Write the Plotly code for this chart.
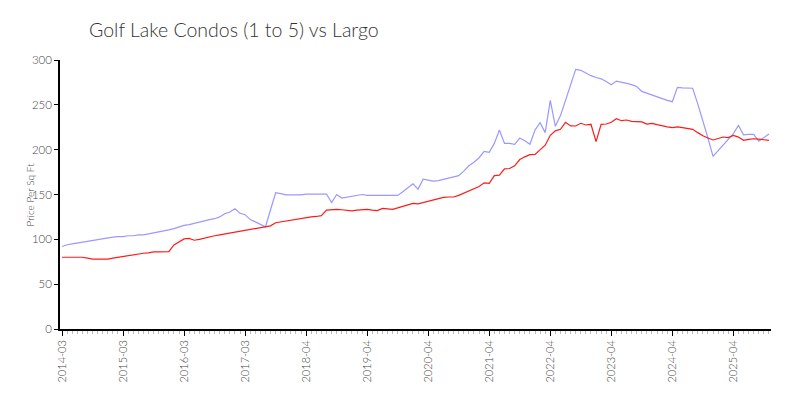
import plotly.graph_objects as go

# Month categories (one month missing between 2017-03 and 2018-04 in the source)
months = []
for y in range(2014, 2026):
    for m in range(1, 13):
        months.append(f"{y}-{m:02d}")
months = [mm for mm in months if "2014-03" <= mm <= "2025-11" and mm != "2017-09"]

golf_lake = [
    92, 94, 95, 96, 97, 98, 99, 100, 101, 102,
    102.5, 103, 103, 104, 104, 105, 105, 106, 107, 108,
    109, 110.5, 112, 114, 115.5, 116.5, 118, 119, 121, 122,
    123, 125, 128.5, 130.5, 134, 129, 127.5, 122, 119.5, 117,
    114, 133, 152, 151, 149.5, 149.5, 149.5, 149.5, 150.5, 150.5,
    150.5, 150.5, 150.5, 141, 150, 146, 147, 148, 149, 150,
    149, 149, 149, 149, 149, 149, 149, 153, 158, 162,
    156, 167, 166, 165, 165.5, 167, 168, 169.5, 171, 176,
    182, 186, 191, 198, 197, 207, 222, 207, 207, 206,
    213, 210, 206, 222, 230, 219, 255, 226, 238, 255,
    272, 289.5, 288.5, 285.5, 282.5, 280.5, 279, 276, 272.5, 276.5,
    275.5, 274, 272.5, 270.5, 265, 263, 261, 258.5, 256.5, 255,
    253.5, 269.5, 269, 268.5, 268.5, 251, 233, 213, 192.5, 199,
    205, 211, 218, 227, 216.5, 217, 217, 209.5, 213.5, 217.5,
]

largo = [
    80, 80, 80, 80, 80, 79, 78, 78, 78, 78,
    79, 80, 81, 81.5, 82.5, 83.5, 84.5, 85, 86, 86,
    86.5, 86.2, 93.7, 97, 100.5, 101, 99, 100, 101.5, 103,
    104, 105, 106, 107, 108, 109, 110, 111, 112, 112.5,
    113.5, 115, 118.5, 119.5, 120.5, 121.5, 122.5, 123.5, 124, 125,
    125.5, 126.5, 132.5, 133, 133.5, 133, 132.5, 131.8, 132.5, 133.3,
    133.3, 132.5, 132, 134.5, 134, 133.5, 135, 136.5, 138.5, 140,
    139.5, 141, 142.5, 143.9, 145, 146.7, 147.2, 147.2, 149, 151.3,
    153.5, 156, 159, 163, 162.5, 171, 171.5, 178.5, 179, 182,
    189, 192, 194.5, 194.8, 199.6, 205, 216, 221, 222.7, 230.5,
    226.5, 226.4, 229.4, 227.5, 228.3, 209, 228.3, 228.6, 230.5, 234.5,
    232.3, 233.1, 231.5, 231.2, 231, 228.6, 229.4, 228, 226.5, 225.5,
    224.5, 225.3, 224.5, 223.5, 222.7, 219, 215.5, 213, 210.8, 212.5,
    214.1, 213.4, 215.8, 214, 210.4, 211.5, 212.2, 211.8, 211.5, 210.4,
]

y_ticks = [0, 50, 100, 150, 200, 250, 300]

idx = list(range(len(months)))
tick_idx = idx[::12]
tick_text = [months[i] for i in tick_idx]

FONT = "Lato"

fig = go.Figure()
fig.add_trace(go.Scatter(x=idx, y=golf_lake, mode="lines", name="Golf Lake Condos",
                         line=dict(color="#9999ff", width=1.2)))
fig.add_trace(go.Scatter(x=idx, y=largo, mode="lines", name="Largo",
                         line=dict(color="#ff1a1a", width=1.2)))

fig.update_layout(
    width=800, height=400,
    margin=dict(l=52, r=37, t=52, b=79),
    paper_bgcolor="white", plot_bgcolor="white",
    showlegend=False,
    font=dict(family=FONT, color="#444444"),
    title=dict(text="Golf Lake Condos (1 to 5) vs Largo", x=81/800, xanchor="left",
               y=1 - 22/400, yanchor="middle",
               font=dict(family=FONT, size=19.5, color="#333333", weight=300)),
    annotations=[dict(text="Price Per Sq Ft", xref="paper", yref="paper", x=0, y=0.5,
                      xshift=-31, textangle=-90, showarrow=False,
                      xanchor="center", yanchor="middle",
                      font=dict(family=FONT, size=10, color="#444444", weight=300))],
)
fig.update_xaxes(
    range=[-0.4, len(months) - 0.6],
    automargin=False,
    tickmode="array", tickvals=tick_idx, ticktext=tick_text,
    tickangle=-90, tickfont=dict(size=11, color="#444444", weight=300),
    showline=True, linecolor="black", linewidth=1.5,
    ticks="outside", ticklen=5, tickcolor="black",
    showgrid=False, zeroline=False,
    minor=dict(tickmode="linear", dtick=1, tick0=0, ticks="outside", ticklen=3,
               tickcolor="#bbbbbb", showgrid=False),
)
fig.update_yaxes(
    range=[0, 300],
    automargin=False,
    tickmode="array", tickvals=y_ticks,
    tickfont=dict(size=11.5, color="#444444", weight=300),
    showline=True, linecolor="black", linewidth=1.5,
    ticks="outside", ticklen=4, tickcolor="black",
    showgrid=False, zeroline=False,
)

fig.write_html("out.html")
